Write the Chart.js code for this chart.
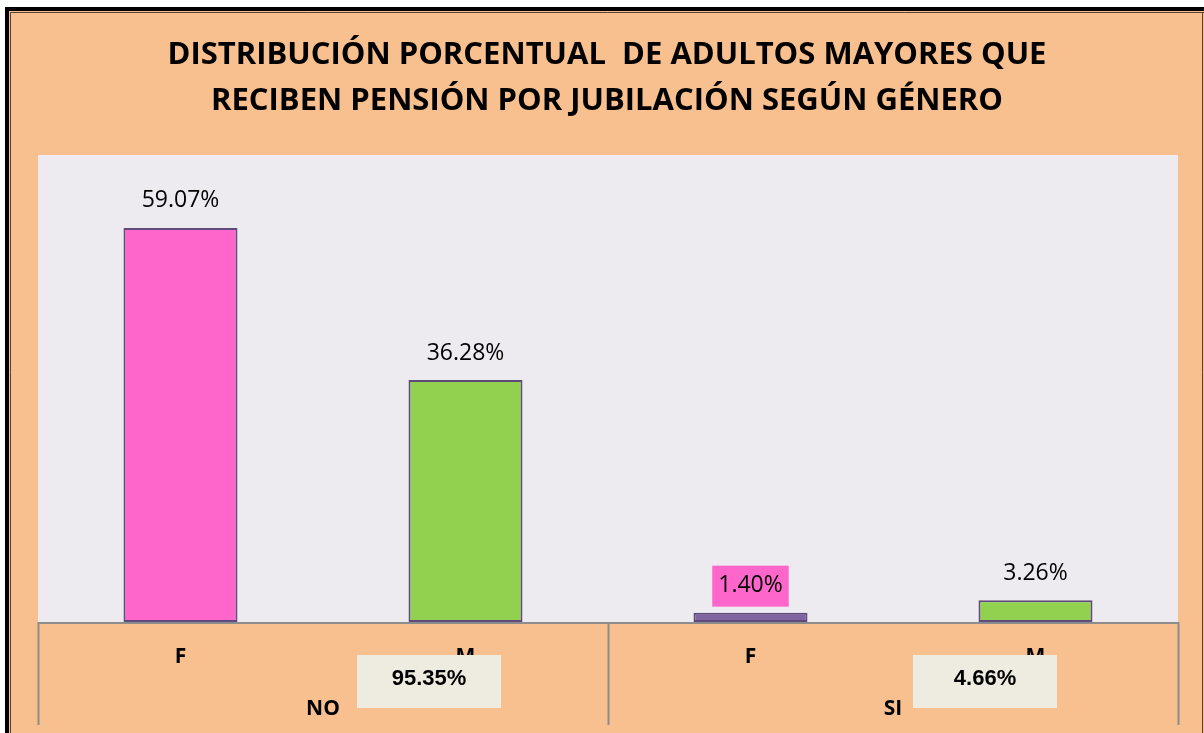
<!DOCTYPE html>
<html>
<head>
<meta charset="utf-8">
<script src="https://cdn.jsdelivr.net/npm/chart.js@4.4.1/dist/chart.umd.min.js"></script>
<style>
  html, body { margin: 0; padding: 0; background: #fff; }
  #wrap { width: 1204px; height: 733px; }
</style>
</head>
<body>
<div id="wrap"><canvas id="pensionChart"></canvas></div>
<script>
  const titleLines = ['DISTRIBUCIÓN PORCENTUAL  DE ADULTOS MAYORES QUE', 'RECIBEN PENSIÓN POR JUBILACIÓN SEGÚN GÉNERO']
  const genders = ['F', 'M', 'F', 'M']
  const groups = ['NO', 'SI']
  const percents = [59.07, 36.28, 1.40, 3.26]
  const groupTotals = ['95.35%', '4.66%']
  const barColors = ['#FF66CC', '#92D050', '#8064A2', '#92D050']
  const labelBoxColors = [null, null, '#FF66CC', null]

  // offsets of the total boxes from each group's centre
  const totalBoxOffset = [34, 20]

  const framePlugin = {
    id: 'frame',
    beforeDraw(chart) {
      const ctx = chart.ctx
      const a = chart.chartArea
      ctx.save()
      ctx.fillStyle = '#fff'
      ctx.fillRect(0, 0, chart.width, chart.height)
      ctx.fillStyle = '#F9C08F'
      ctx.fillRect(5, 7, chart.width - 5, chart.height - 7)
      // outer frame
      ctx.fillStyle = '#000'
      ctx.fillRect(5, 7, 4, chart.height - 7)
      ctx.fillRect(5, 7, chart.width - 5, 4)
      ctx.strokeStyle = '#5b4030'
      ctx.lineWidth = 1
      ctx.beginPath()
      ctx.moveTo(10.5, 12.5); ctx.lineTo(chart.width, 12.5)
      ctx.moveTo(10.5, 12.5); ctx.lineTo(10.5, chart.height)
      ctx.moveTo(1202.5, 12.5); ctx.lineTo(1202.5, chart.height)
      ctx.stroke()
      // plot area
      ctx.fillStyle = '#EDEBF0'
      ctx.fillRect(a.left, a.top, a.right - a.left, a.bottom - a.top)
      // title
      ctx.fillStyle = '#000'
      ctx.font = 'bold 31px "Open Sans"'
      ctx.textAlign = 'center'
      ctx.textBaseline = 'middle'
      ctx.fillText(titleLines[0], 607, 55)
      ctx.fillText(titleLines[1], 607, 101)
      ctx.restore()
    },
    afterDatasetsDraw(chart) {
      const ctx = chart.ctx
      const a = chart.chartArea
      const x = chart.scales.x
      const meta = chart.getDatasetMeta(0)
      ctx.save()
      // axis lines
      ctx.strokeStyle = '#8c8c8c'
      ctx.lineWidth = 2
      ctx.beginPath()
      ctx.moveTo(a.left, a.bottom + 1); ctx.lineTo(a.right, a.bottom + 1)
      const step = (a.right - a.left) / genders.length
      for (let g = 0; g <= groups.length; g++) {
        const gx = Math.round(a.left + g * step * 2) + 0.5
        ctx.moveTo(gx, a.bottom); ctx.lineTo(gx, a.bottom + 103)
      }
      ctx.stroke()

      // value labels
      ctx.textAlign = 'center'
      ctx.textBaseline = 'middle'
      ctx.font = '23px "Open Sans"'
      meta.data.forEach((bar, i) => {
        const txt = percents[i].toFixed(2) + '%'
        const ty = bar.y - 27
        if (labelBoxColors[i]) {
          const w = ctx.measureText(txt).width + 12
          ctx.fillStyle = labelBoxColors[i]
          ctx.fillRect(bar.x - w / 2, ty - 20, w, 41)
        }
        ctx.fillStyle = '#000'
        ctx.fillText(txt, bar.x, ty)
      })

      // category labels
      ctx.font = 'bold 21px "Open Sans"'
      genders.forEach((g, i) => {
        ctx.fillText(g, x.getPixelForValue(i), a.bottom + 35)
      })
      groups.forEach((g, i) => {
        const cx = (x.getPixelForValue(i * 2) + x.getPixelForValue(i * 2 + 1)) / 2
        ctx.fillStyle = '#000'
        ctx.font = 'bold 21px "Open Sans"'
        ctx.fillText(g, cx, a.bottom + 87)
        // total box
        const bx = cx + totalBoxOffset[i]
        ctx.fillStyle = '#EEEBE0'
        ctx.fillRect(bx, a.bottom + 33, 144, 53)
        ctx.fillStyle = '#000'
        ctx.font = 'bold 22px "Liberation Sans"'
        ctx.fillText(groupTotals[i], bx + 72, a.bottom + 57)
      })
      ctx.restore()
    }
  }

  const chart = new Chart(document.getElementById('pensionChart').getContext('2d'), {
    type: 'bar',
    data: {
      labels: genders,
      datasets: [{
        label: 'Porcentaje',
        data: percents,
        backgroundColor: barColors,
        borderColor: '#604A7B',
        borderWidth: 2,
        borderSkipped: false,
        categoryPercentage: 1,
        barPercentage: 0.4
      }]
    },
    options: {
      responsive: true,
      maintainAspectRatio: false,
      animation: false,
      layout: { padding: { top: 155, left: 38, right: 26, bottom: 111 } },
      scales: {
        x: { display: false },
        y: { display: false, min: 0, max: 70 }
      },
      plugins: {
        legend: { display: false },
        title: { display: false },
        tooltip: { enabled: false }
      }
    },
    plugins: [framePlugin]
  })
</script>
</body>
</html>
